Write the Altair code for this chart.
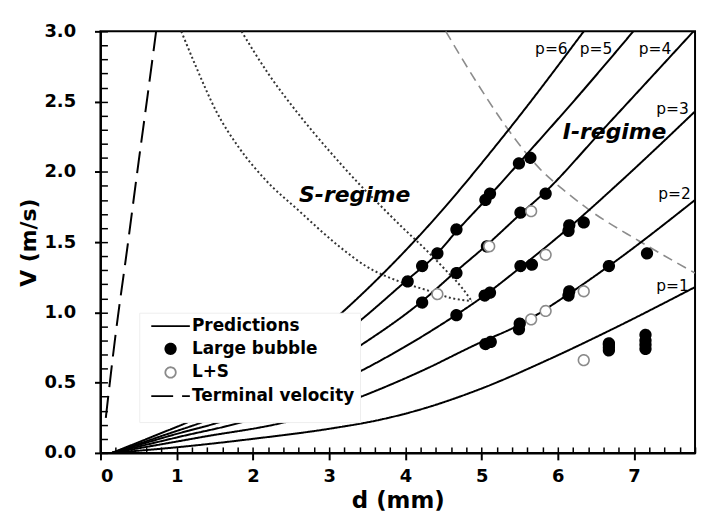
import altair as alt
import pandas as pd

# ---------------- data ----------------
# prediction curves, d (mm) / V (m/s)
p1_d = [0.15, 1.0, 2.0, 3.04, 3.66, 4.14, 4.96, 5.88, 6.75, 7.8]
p1_v = [0.0, 0.04, 0.10, 0.175, 0.235, 0.30, 0.45, 0.665, 0.89, 1.18]
p2_d = [0.15, 1.3, 2.57, 3.37, 4.2, 4.96, 5.49, 6.14, 6.67, 7.8]
p2_v = [0.0, 0.11, 0.24, 0.39, 0.58, 0.78, 0.91, 1.13, 1.33, 1.80]
p3_d = [0.15, 1.0, 1.98, 3.37, 4.66, 4.96, 5.51, 6.14, 6.8, 7.8]
p3_v = [0.0, 0.11, 0.24, 0.57, 0.98, 1.09, 1.32, 1.60, 1.92, 2.43]
p4_d = [0.15, 0.9, 1.67, 3.37, 4.22, 4.66, 5.07, 5.51, 5.84, 6.54, 7.78]
p4_v = [0.0, 0.12, 0.24, 0.75, 1.08, 1.29, 1.48, 1.70, 1.86, 2.27, 3.0]
p5_d = [0.15, 0.8, 1.43, 3.37, 4.0, 4.42, 4.66, 5.07, 5.6, 6.3, 6.99]
p5_v = [0.0, 0.12, 0.24, 0.925, 1.22, 1.42, 1.57, 1.81, 2.13, 2.56, 3.0]
p6_d = [0.15, 0.7, 1.23, 3.13, 4.25, 5.34, 6.34]
p6_v = [0.0, 0.12, 0.24, 0.98, 1.585, 2.29, 3.0]

# terminal velocity
tv_d = [0.07, 0.2, 0.35, 0.5, 0.62, 0.73]
tv_v = [0.25, 0.85, 1.45, 2.07, 2.55, 3.0]

# S-regime boundaries (dotted)
sa_d = [1.06, 1.26, 1.52, 1.82, 2.17, 2.61, 3.13, 3.48, 3.92, 4.27, 4.62, 4.87]
sa_v = [3.0, 2.74, 2.43, 2.17, 1.94, 1.72, 1.47, 1.33, 1.22, 1.16, 1.10, 1.08]
sb_d = [1.85, 2.2, 2.6, 3.0, 3.4, 3.7, 3.96, 4.27, 4.53, 4.75, 4.87]
sb_v = [3.0, 2.70, 2.41, 2.15, 1.91, 1.745, 1.605, 1.445, 1.30, 1.17, 1.08]
# I-regime boundary (grey dashed)
ir_d = [4.53, 4.92, 5.31, 5.75, 6.10, 6.41, 7.06, 7.8]
ir_v = [3.0, 2.65, 2.33, 2.03, 1.86, 1.73, 1.51, 1.28]

# measurements
large_d = [4.03, 4.22, 4.42, 4.67, 5.05, 5.11, 5.49, 5.64,
           4.22, 4.67, 5.07, 5.51, 5.84,
           4.67, 5.04, 5.11, 5.51, 5.66, 6.14, 6.15, 6.34,
           5.05, 5.12, 5.49, 5.50, 6.14, 6.15, 6.67, 7.17,
           6.67, 6.67, 6.67, 6.67, 7.15, 7.15, 7.15, 7.15]
large_v = [1.22, 1.33, 1.42, 1.59, 1.80, 1.845, 2.06, 2.10,
           1.07, 1.28, 1.47, 1.71, 1.845,
           0.98, 1.12, 1.14, 1.33, 1.34, 1.58, 1.62, 1.64,
           0.775, 0.79, 0.88, 0.92, 1.12, 1.15, 1.33, 1.42,
           0.73, 0.75, 0.77, 0.78, 0.74, 0.77, 0.80, 0.84]
ls_d = [4.42, 5.10, 5.65, 5.84, 5.65, 5.84, 6.34, 6.34]
ls_v = [1.13, 1.47, 1.72, 1.41, 0.95, 1.01, 1.15, 0.66]

# annotations
p_text = ["p=6", "p=5", "p=4", "p=3", "p=2", "p=1"]
p_d = [5.915, 6.50, 7.275, 7.505, 7.53, 7.505]
p_v = [2.84, 2.84, 2.84, 2.41, 1.805, 1.155]
reg_text = ["S-regime", "I-regime"]
reg_d = [3.335, 6.745]
reg_v = [1.787, 2.234]

SERIES = ["Predictions", "Large bubble", "L+S", "Terminal velocity"]
STROKE_PATH = "M-3.7,0H3.7"

# ---------------- tables ----------------
def curve_rows(name, series, ds, vs):
    return [{"d": d, "V": v, "curve": name, "series": series, "i": i}
            for i, (d, v) in enumerate(zip(ds, vs))]

pred_rows = []
for name, ds, vs in [("p1", p1_d, p1_v), ("p2", p2_d, p2_v), ("p3", p3_d, p3_v),
                     ("p4", p4_d, p4_v), ("p5", p5_d, p5_v), ("p6", p6_d, p6_v)]:
    pred_rows += curve_rows(name, "Predictions", ds, vs)
pred_rows += curve_rows("tv", "Terminal velocity", tv_d, tv_v)
lines_df = pd.DataFrame(pred_rows)

dotted_df = pd.DataFrame(curve_rows("A", "S", sa_d, sa_v) + curve_rows("B", "S", sb_d, sb_v))
ireg_df = pd.DataFrame(curve_rows("C", "I", ir_d, ir_v))

points_df = pd.DataFrame(
    [{"d": d, "V": v, "series": "Large bubble"} for d, v in zip(large_d, large_v)]
    + [{"d": d, "V": v, "series": "L+S"} for d, v in zip(ls_d, ls_v)]
)
plabel_df = pd.DataFrame({"d": p_d, "V": p_v, "t": p_text})
reg_df = pd.DataFrame({"d": reg_d, "V": reg_v, "t": reg_text})

# ---------------- scales & axes ----------------
FONT = "DejaVu Sans"
xscale = alt.Scale(domain=[0, 7.8], nice=False, zero=False)
yscale = alt.Scale(domain=[0, 3.0], nice=False, zero=False)

stroke_scale = alt.Scale(domain=SERIES, range=["#000000", "#000000", "#8a8a8a", "#000000"])
fill_scale = alt.Scale(domain=SERIES, range=["#000000", "#000000", "#ffffff", "#000000"])
shape_scale = alt.Scale(domain=SERIES, range=[STROKE_PATH, "circle", "circle", STROKE_PATH])
dash_scale = alt.Scale(domain=SERIES, range=[[1, 0], [1, 0], [1, 0], [22, 9]])

x_main = alt.Axis(orient="bottom", values=list(range(0, 8)), format="d", tickSize=7,
                  tickWidth=2, tickColor="black", domainColor="black", domainWidth=2,
                  labelFont=FONT, labelFontSize=18, labelFontWeight="bold", labelColor="black",
                  labelPadding=8, title="d (mm)", titleFont=FONT, titleFontSize=23,
                  titleFontWeight="bold", titleColor="black", titlePadding=4, grid=False)
y_main = alt.Axis(orient="left", values=[0, 0.5, 1.0, 1.5, 2.0, 2.5, 3.0], format=".1f",
                  tickSize=6, tickWidth=2, tickColor="black", domainColor="black",
                  domainWidth=2, labelFont=FONT, labelFontSize=18, labelFontWeight="bold",
                  labelColor="black", labelPadding=19, title="V (m/s)", titleFont=FONT,
                  titleFontSize=22, titleFontWeight="bold", titleColor="black",
                  titlePadding=3, grid=False)
x_minor = alt.Axis(orient="bottom", values=[round(0.2 * i, 1) for i in range(40)],
                   tickSize=6, tickWidth=1.5, tickColor="black", offset=-6,
                   labels=False, domain=False, title=None, grid=False)
y_minor = alt.Axis(orient="left", values=[round(0.1 * i, 1) for i in range(31)],
                   tickSize=7, tickWidth=1.5, tickColor="black", offset=-7,
                   labels=False, domain=False, title=None, grid=False)

legend = alt.Legend(title=" ", titleOrient="bottom", titleFontSize=12, titlePadding=2,
                    orient="none", legendX=39, legendY=283, fillColor="white",
                    strokeColor="#eeeeee", padding=5, labelFont=FONT, labelFontSize=17,
                    labelFontWeight="bold", labelColor="black", labelLimit=300,
                    symbolSize=110, symbolStrokeWidth=1.8, symbolOffset=18,
                    labelOffset=13, rowPadding=4.8)

# ---------------- layers ----------------
dotted = alt.Chart(dotted_df).mark_line(
    stroke="#333333", strokeWidth=2, strokeDash=[2, 2.6], clip=True, interpolate="monotone"
).encode(
    x=alt.X("d:Q", scale=xscale, axis=x_minor),
    y=alt.Y("V:Q", scale=yscale, axis=y_minor),
    detail="curve:N", order="i:Q",
)

ireg = alt.Chart(ireg_df).mark_line(
    stroke="#8c8c8c", strokeWidth=1.6, strokeDash=[10, 6], clip=True, interpolate="monotone"
).encode(
    x=alt.X("d:Q", scale=xscale, axis=None),
    y=alt.Y("V:Q", scale=yscale, axis=None),
    order="i:Q",
)

points = alt.Chart(points_df).mark_point(
    filled=True, opacity=1, size=115, strokeWidth=1.6
).encode(
    x=alt.X("d:Q", scale=xscale, axis=None),
    y=alt.Y("V:Q", scale=yscale, axis=None),
    stroke=alt.Stroke("series:N", scale=stroke_scale, legend=legend),
    fill=alt.Fill("series:N", scale=fill_scale, legend=legend),
    shape=alt.Shape("series:N", scale=shape_scale, legend=legend),
    strokeDash=alt.StrokeDash("series:N", scale=dash_scale, legend=legend),
)

lines = alt.Chart(lines_df).mark_line(strokeWidth=2, clip=True, interpolate="monotone").encode(
    x=alt.X("d:Q", scale=xscale, axis=x_main),
    y=alt.Y("V:Q", scale=yscale, axis=y_main),
    detail="curve:N", order="i:Q",
    stroke=alt.Stroke("series:N", scale=stroke_scale, legend=legend),
    strokeDash=alt.StrokeDash("series:N", scale=dash_scale, legend=legend),
)

plabels = alt.Chart(plabel_df).mark_text(
    font=FONT, fontSize=15.5, align="center", baseline="alphabetic", color="black"
).encode(
    x=alt.X("d:Q", scale=xscale, axis=None),
    y=alt.Y("V:Q", scale=yscale, axis=None),
    text="t:N",
)

regimes = alt.Chart(reg_df).mark_text(
    font=FONT, fontSize=22, fontWeight="bold", fontStyle="italic", align="center",
    baseline="alphabetic", color="black"
).encode(
    x=alt.X("d:Q", scale=xscale, axis=None),
    y=alt.Y("V:Q", scale=yscale, axis=None),
    text="t:N",
)

chart = alt.layer(dotted, ireg, lines, points, plabels, regimes).resolve_axis(
    x="independent", y="independent"
).properties(
    width=598, height=424,
    padding={"left": 10, "top": 13, "right": 5, "bottom": 5},
    background="white",
).configure_view(stroke="black", strokeWidth=2)

chart.save("out.html", embed_options={"renderer": "svg", "actions": False})
